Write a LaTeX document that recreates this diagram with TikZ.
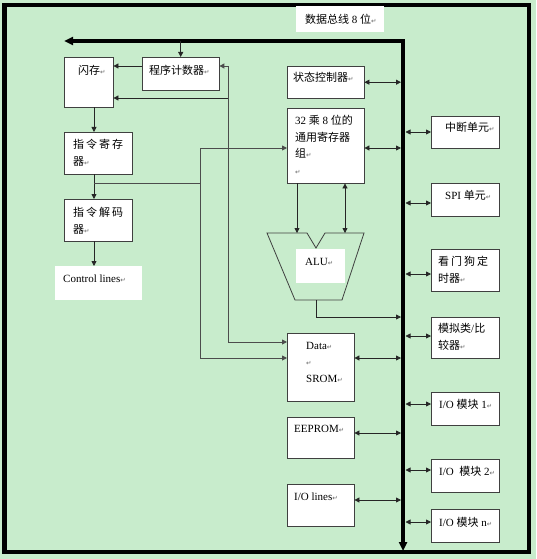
\documentclass[tikz,border=0pt]{standalone}
\usepackage{fontspec}
\setmainfont{Liberation Serif}
\newfontfamily\cjk{Noto Sans CJK SC}
\newfontfamily\arrfont{DejaVu Sans}
\usetikzlibrary{arrows.meta,positioning}

\definecolor{bggreen}{RGB}{200,236,204}
\definecolor{edge}{RGB}{64,64,64}
\newcommand\zh[1]{{\cjk #1}}
\newcommand\retmark{{\arrfont\fontsize{6.5pt}{6.5pt}\selectfont\color{black!60}↵}}

\tikzset{
  unit/.style={draw=edge, fill=white, anchor=north west, inner sep=0pt},
  txt/.style={anchor=west, inner sep=0pt, align=left,
    font=\fontsize{11pt}{16.5pt}\selectfont},
  conn/.style={draw=black!85, line width=0.8pt, -{Triangle[length=5pt,width=5pt]}},
  dconn/.style={conn, {Triangle[length=5pt,width=5pt]}-{Triangle[length=5pt,width=5pt]}},
  wire/.style={draw=black!70, line width=0.9pt},
  bus/.style={line width=4pt, line join=miter,
    {Triangle[length=9pt,width=8pt]}-{Triangle[length=9pt,width=8pt]}},
}

\begin{document}
\begin{tikzpicture}[x=1pt,y=-1pt]

\fill[bggreen] (0,0) rectangle (536,559);
\draw[line width=4.5pt] (4.5,5) rectangle (529,552);

% data bus
\coordinate (busL) at (64,41);
\coordinate (busC) at (403,41);
\coordinate (busB) at (403,551);
\coordinate (lb) at (401,0);
\coordinate (rb) at (405.5,0);
\draw[bus] (busL) -- (busC) -- (busB);

\node[unit, draw=none, minimum width=88pt, minimum height=26pt] (title) at (296,6) {};
\node[txt] (titleT) at (305,19) {\zh{数据总线} 8 \zh{位}\retmark};

% left column
\node[unit, minimum width=49pt, minimum height=50pt] (flash) at (64,57) {};
\node[unit, minimum width=77pt, minimum height=33pt] (pc) at (142,57) {};
\node[unit, minimum width=68pt, minimum height=42pt] (ir) at (64,132) {};
\node[unit, minimum width=68pt, minimum height=42pt] (dec) at (64,199) {};
\node[unit, draw=none, minimum width=87pt, minimum height=34pt] (ctl) at (55,266) {};

\node[txt] (flashT) at (78,70) {\zh{闪存}\retmark};
\node[txt] (pcT) at (149,70) {\zh{程序计数器}\retmark};
\node[txt] (irT) at (73,153) {\zh{指\kern2pt 令\kern2pt 寄\kern2pt 存}\\\zh{器}\retmark};
\node[txt] (decT) at (73,221) {\zh{指\kern2pt 令\kern2pt 解\kern2pt 码}\\\zh{器}\retmark};
\node[txt] (ctlT) at (63,279) {Control lines\retmark};

% middle column
\node[unit, minimum width=77pt, minimum height=32pt] (stat) at (287,66) {};
\node[unit, minimum width=77pt, minimum height=75pt] (regs) at (287,108) {};
\node[unit, minimum width=67pt, minimum height=68pt] (data) at (287,333) {};
\node[unit, minimum width=67pt, minimum height=41pt] (eep) at (287,417) {};
\node[unit, minimum width=67pt, minimum height=42pt] (iol) at (287,484) {};

\draw[draw=edge, line width=0.8pt] (267,233) -- (307,233) -- (316,248) -- (325,233)
  -- (364,233) -- (342,300) -- (295,300) -- cycle;
\node[unit, draw=none, minimum width=49pt, minimum height=34pt] (alu) at (296,249) {};
\coordinate (aluIn) at (297,233);
\coordinate (aluIo) at (345,233);
\coordinate (aluOut) at (316,300);

\node[txt] (statT) at (293,77) {\zh{状态控制器}\retmark};
\node[txt] (regsT) at (295,145) {32 \zh{乘} 8 \zh{位的}\\\zh{通用寄存器}\\\zh{组}\retmark\\\retmark};
\node[txt] (aluT) at (305,262) {ALU\retmark};
\node[txt] (dataT) at (306,362) {Data\retmark\\\retmark\\SROM\retmark};
\node[txt] (eepT) at (294,429) {EEPROM\retmark};
\node[txt] (iolT) at (294,497) {I/O lines\retmark};

% right column
\foreach \n/\y/\h in {int/116/32,spi/183/33,wdt/249/42,adc/317/41,io1/392/33,io2/459/33,ion/509/33}
  \node[unit, minimum width=68pt, minimum height=\h pt] (\n) at (431,\y) {};

\node[txt] (intT) at (445,127) {\zh{中断单元}\retmark};
\node[txt] (spiT) at (445,195) {SPI \zh{单元}\retmark};
\node[txt] (wdtT) at (438,270) {\zh{看\kern2pt 门\kern2pt 狗\kern2pt 定}\\\zh{时器}\retmark};
\node[txt] (adcT) at (438,337) {\zh{模拟类}/\zh{比}\\\zh{较器}\retmark};
\node[txt] (io1T) at (439,404) {I/O \zh{模块} 1\retmark};
\node[txt] (io2T) at (439,471) {I/O\ \ \zh{模块} 2\retmark};
\node[txt] (ionT) at (439,522) {I/O \zh{模块} n\retmark};

% control paths
\draw[conn] (pc.north |- busC) -- (pc.north);
\draw[conn] ([yshift=-9pt]pc.north west) -- ([yshift=-9pt]pc.north west -| flash.east);

\coordinate (fbTop) at (228,66);
\coordinate (fbMid) at (228,98);
\coordinate (fbBot) at (228,342);
\draw[wire, {Triangle[length=5pt,width=5pt]}-{Triangle[length=5pt,width=5pt]}]
  (pc.east |- fbTop) -- (fbTop) -- (fbBot) -- (data.west |- fbBot);
\draw[conn] (fbMid) -- (fbMid -| flash.east);

\coordinate (stem) at (94,183);
\coordinate (br) at (200,183);
\draw[conn] (flash.south -| stem) -- (ir.north -| stem);
\draw[conn] (ir.south -| stem) -- (dec.north -| stem);
\draw[conn] (dec.south -| stem) -- (ctl.north -| stem);
\draw[wire] (stem) -- (br);
\draw[wire, -{Triangle[length=5pt,width=5pt]}] (br) |- (regs.west |- 0,148);
\draw[wire, -{Triangle[length=5pt,width=5pt]}] (br) |- (data.west |- 0,358);

\draw[conn] (regs.south -| aluIn) -- (aluIn);
\draw[dconn] (regs.south -| aluIo) -- (aluIo);
\draw[conn] (aluOut) |- (lb |- 0,317);

% bus links
\draw[dconn] (stat.east) -- (stat.east -| lb);
\draw[dconn] (regs.east |- 0,148) -- (lb |- 0,148);
\draw[dconn] (data.east |- 0,358) -- (lb |- 0,358);
\draw[dconn] (eep.east |- 0,433) -- (lb |- 0,433);
\draw[dconn] (iol.east |- 0,500) -- (lb |- 0,500);
\foreach \n/\y in {int/132,spi/203,wdt/274,adc/336,io1/404,io2/470,ion/522}
  \draw[dconn] (rb |- 0,\y) -- (\n.west |- 0,\y);

\end{tikzpicture}
\end{document}
